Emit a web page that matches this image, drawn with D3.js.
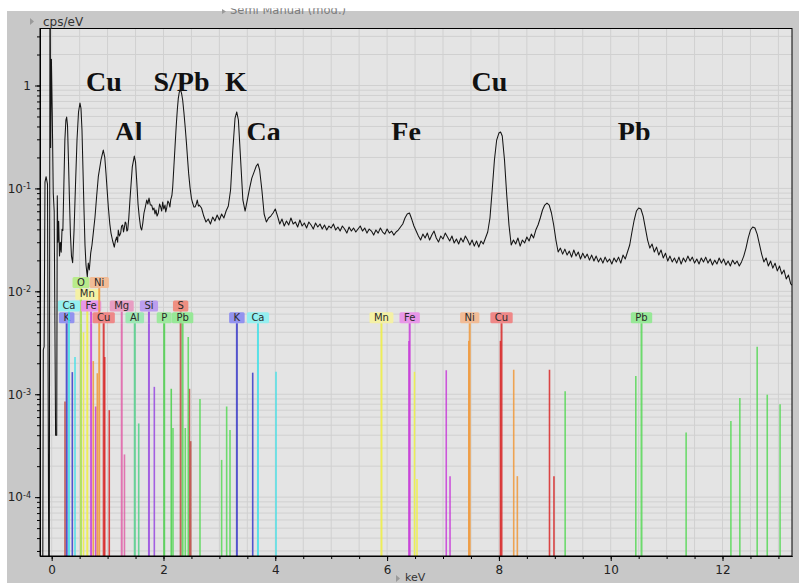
<!DOCTYPE html>
<html>
<head>
<meta charset="utf-8">
<script src="https://cdn.jsdelivr.net/npm/d3@7"></script>
<style>
  html, body { margin: 0; padding: 0; background: #fff; }
  svg { display: block; }
</style>
</head>
<body>
<svg id="chart" width="799" height="583"></svg>
<script>
// ---------------- data ----------------
// axis ranges (keV, cps/eV)
const energyRange = [-0.209, 13.243];
const countRange = [2.68e-5, 3.58];

// measured spectrum: [energy keV, intensity cps/eV]
const spectrum = [
  [-0.165, 1e-6], [-0.150, 0.0027], [-0.135, 0.0029], [-0.120, 0.115], [-0.100, 0.13], [-0.075, 0.11],
  [-0.045, 1e-6], [-0.030, 30], [-0.018, 0.25], [-0.005, 1.8], [0.010, 0.55], [0.028, 0.09], [0.045, 0.06],
  [0.070, 0.0004], [0.090, 0.0004], [0.100, 0.085], [0.112, 0.03], [0.125, 0.048], [0.140, 0.022],
  [0.155, 0.03], [0.170, 0.024], [0.185, 0.04], [0.200, 0.039], [0.218, 0.108], [0.236, 0.295],
  [0.254, 0.46], [0.268, 0.494], [0.283, 0.41], [0.300, 0.19], [0.318, 0.077], [0.336, 0.035],
  [0.354, 0.022], [0.375, 0.019], [0.400, 0.039], [0.426, 0.108], [0.453, 0.295], [0.480, 0.553],
  [0.506, 0.676], [0.524, 0.60], [0.542, 0.369], [0.560, 0.151], [0.578, 0.062], [0.596, 0.028],
  [0.614, 0.018], [0.637, 0.0139], [0.655, 0.0188], [0.673, 0.0161], [0.698, 0.0235], [0.721, 0.0282],
  [0.744, 0.0368], [0.775, 0.0527], [0.805, 0.085], [0.834, 0.13], [0.882, 0.189], [0.923, 0.236],
  [0.950, 0.20], [0.971, 0.141], [1.013, 0.066], [1.040, 0.045], [1.061, 0.0368], [1.090, 0.031],
  [1.120, 0.0269], [1.140, 0.031], [1.163, 0.0337], [1.180, 0.030], [1.191, 0.0394], [1.212, 0.0345],
  [1.234, 0.0368], [1.250, 0.0431], [1.270, 0.0441], [1.285, 0.0377], [1.299, 0.0412], [1.315, 0.0471],
  [1.329, 0.0461], [1.345, 0.0385], [1.360, 0.0394], [1.380, 0.052], [1.400, 0.0772], [1.442, 0.162],
  [1.478, 0.206], [1.500, 0.18], [1.520, 0.121], [1.545, 0.07], [1.567, 0.0527], [1.590, 0.042],
  [1.610, 0.0394], [1.630, 0.046], [1.651, 0.0577], [1.675, 0.0659], [1.700, 0.0772], [1.720, 0.0705],
  [1.741, 0.0807], [1.765, 0.0689], [1.789, 0.0689], [1.810, 0.0617], [1.830, 0.0645], [1.848, 0.0564],
  [1.866, 0.0617], [1.885, 0.0539], [1.907, 0.0577], [1.930, 0.0705], [1.950, 0.0659], [1.968, 0.0603],
  [1.986, 0.0738], [2.005, 0.0631], [2.027, 0.0689], [2.040, 0.0590], [2.057, 0.0645], [2.078, 0.0755],
  [2.098, 0.0721], [2.115, 0.0659], [2.129, 0.0772], [2.150, 0.085], [2.165, 0.103], [2.185, 0.16],
  [2.206, 0.253], [2.227, 0.40], [2.247, 0.578], [2.265, 0.75], [2.283, 0.865], [2.308, 0.904],
  [2.325, 0.83], [2.343, 0.723], [2.365, 0.55], [2.388, 0.395], [2.410, 0.28], [2.429, 0.20],
  [2.450, 0.14], [2.474, 0.103], [2.500, 0.08], [2.522, 0.0721], [2.545, 0.0659], [2.564, 0.0659],
  [2.585, 0.0700], [2.605, 0.0772], [2.625, 0.0674], [2.640, 0.0689],
  [2.68, 0.0645], [2.72, 0.0539], [2.76, 0.0472], [2.80, 0.0504], [2.84, 0.0451], [2.88, 0.0527],
  [2.92, 0.0482], [2.96, 0.0551], [3.00, 0.0493], [3.04, 0.0564], [3.08, 0.0516], [3.12, 0.0603],
  [3.16, 0.0674], [3.20, 0.0965], [3.24, 0.236], [3.28, 0.483], [3.31, 0.553], [3.34, 0.462],
  [3.38, 0.189], [3.42, 0.0772], [3.46, 0.0603], [3.50, 0.0772], [3.54, 0.100], [3.58, 0.126],
  [3.62, 0.144], [3.66, 0.165], [3.69, 0.173], [3.72, 0.151], [3.76, 0.0965], [3.80, 0.0564],
  [3.84, 0.0472], [3.88, 0.0516], [3.92, 0.0539], [3.96, 0.0577], [4.00, 0.0631], [4.04, 0.0539],
  [4.08, 0.0451], [4.12, 0.0504], [4.16, 0.0431], [4.20, 0.0482], [4.24, 0.0441], [4.28, 0.0516],
  [4.32, 0.0451], [4.36, 0.0472], [4.40, 0.0422], [4.44, 0.0493], [4.48, 0.0431], [4.52, 0.0461],
  [4.56, 0.0412], [4.60, 0.0472], [4.64, 0.0441], [4.68, 0.0403], [4.72, 0.0461], [4.76, 0.0422],
  [4.80, 0.0451], [4.84, 0.0403], [4.88, 0.0441], [4.92, 0.0394], [4.96, 0.0431], [5.00, 0.0412],
  [5.04, 0.0451], [5.08, 0.0394], [5.12, 0.0422], [5.16, 0.0385], [5.20, 0.0431], [5.24, 0.0403],
  [5.28, 0.0368], [5.32, 0.0422], [5.36, 0.0385], [5.40, 0.0412], [5.44, 0.0377], [5.48, 0.0403],
  [5.52, 0.0431], [5.56, 0.0385], [5.60, 0.0412], [5.64, 0.0368], [5.68, 0.0403], [5.72, 0.0385],
  [5.76, 0.0352], [5.80, 0.0394], [5.84, 0.0368], [5.88, 0.0412], [5.92, 0.0377], [5.96, 0.0360],
  [6.00, 0.0403], [6.04, 0.0368], [6.08, 0.0385], [6.12, 0.0352], [6.16, 0.0377], [6.20, 0.0394],
  [6.24, 0.0422], [6.28, 0.0451], [6.32, 0.0516], [6.36, 0.0564], [6.40, 0.0577], [6.44, 0.0504],
  [6.48, 0.0431], [6.52, 0.0385], [6.56, 0.0345], [6.60, 0.0315], [6.64, 0.0360], [6.68, 0.0330],
  [6.72, 0.0368], [6.76, 0.0315], [6.80, 0.0352], [6.84, 0.0385], [6.88, 0.0330], [6.92, 0.0301],
  [6.96, 0.0345], [7.00, 0.0322], [7.04, 0.0368], [7.08, 0.0337], [7.12, 0.0308], [7.16, 0.0345],
  [7.20, 0.0295], [7.24, 0.0322], [7.28, 0.0288], [7.32, 0.0330], [7.36, 0.0301], [7.40, 0.0345],
  [7.44, 0.0315], [7.48, 0.0282], [7.52, 0.0315], [7.56, 0.0275], [7.60, 0.0308], [7.64, 0.0269],
  [7.68, 0.0308], [7.72, 0.0288], [7.76, 0.0330], [7.80, 0.0377], [7.84, 0.0516], [7.88, 0.0965],
  [7.92, 0.189], [7.96, 0.295], [8.00, 0.345], [8.03, 0.353], [8.06, 0.323], [8.10, 0.189],
  [8.14, 0.0863], [8.18, 0.0441], [8.22, 0.0282], [8.26, 0.0315], [8.30, 0.0288], [8.34, 0.0330],
  [8.38, 0.0275], [8.42, 0.0315], [8.46, 0.0295], [8.50, 0.0337], [8.54, 0.0308], [8.58, 0.0360],
  [8.62, 0.0330], [8.66, 0.0394], [8.70, 0.0441], [8.74, 0.0516], [8.78, 0.0617], [8.82, 0.0689],
  [8.86, 0.0721], [8.90, 0.0689], [8.94, 0.0577], [8.98, 0.0441], [9.02, 0.0315], [9.06, 0.0241],
  [9.10, 0.0263], [9.14, 0.0230], [9.18, 0.0257], [9.22, 0.0225], [9.26, 0.0246], [9.30, 0.0215],
  [9.34, 0.0252], [9.38, 0.0220], [9.42, 0.0241], [9.46, 0.0206], [9.50, 0.0235], [9.54, 0.0211],
  [9.58, 0.0230], [9.62, 0.0201], [9.66, 0.0225], [9.70, 0.0197], [9.74, 0.0220], [9.78, 0.0193],
  [9.82, 0.0211], [9.86, 0.0188], [9.90, 0.0215], [9.94, 0.0193], [9.98, 0.0206], [10.02, 0.0184],
  [10.06, 0.0211], [10.10, 0.0193], [10.14, 0.0215], [10.18, 0.0188], [10.22, 0.0225], [10.26, 0.0206],
  [10.30, 0.0241], [10.34, 0.0282], [10.38, 0.0377], [10.42, 0.0493], [10.46, 0.0603], [10.50, 0.0645],
  [10.54, 0.0631], [10.58, 0.0539], [10.62, 0.0412], [10.66, 0.0315], [10.70, 0.0263], [10.74, 0.0288],
  [10.78, 0.0241], [10.82, 0.0269], [10.86, 0.0225], [10.90, 0.0252], [10.94, 0.0211], [10.98, 0.0235],
  [11.02, 0.0197], [11.06, 0.0220], [11.10, 0.0193], [11.14, 0.0211], [11.18, 0.0188], [11.22, 0.0215],
  [11.26, 0.0184], [11.30, 0.0211], [11.34, 0.0193], [11.38, 0.0220], [11.42, 0.0197], [11.46, 0.0215],
  [11.50, 0.0188], [11.54, 0.0206], [11.58, 0.0184], [11.62, 0.0211], [11.66, 0.0193], [11.70, 0.0215],
  [11.74, 0.0188], [11.78, 0.0206], [11.82, 0.0180], [11.86, 0.0201], [11.90, 0.0184], [11.94, 0.0211],
  [11.98, 0.0188], [12.02, 0.0206], [12.06, 0.0180], [12.10, 0.0197], [12.14, 0.0176], [12.18, 0.0201],
  [12.22, 0.0184], [12.26, 0.0197], [12.30, 0.0176], [12.34, 0.0193], [12.38, 0.0220], [12.42, 0.0263],
  [12.46, 0.0330], [12.50, 0.0394], [12.54, 0.0422], [12.58, 0.0412], [12.62, 0.0360], [12.66, 0.0288],
  [12.70, 0.0230], [12.74, 0.0193], [12.78, 0.0211], [12.82, 0.0176], [12.86, 0.0197], [12.90, 0.0168],
  [12.94, 0.0188], [12.98, 0.0158], [13.02, 0.0176], [13.06, 0.0147], [13.10, 0.0161], [13.14, 0.0132],
  [13.18, 0.0144], [13.22, 0.0118], [13.26, 0.0113]
];

// element line markers: [energy keV, marker height cps/eV]
const linesK  = [[0.268, 0.0049], [0.369, 0.00164], [3.313, 0.0049], [3.596, 0.00162]];
const linesCa = [[0.309, 0.0049], [0.417, 0.0023], [3.690, 0.0049], [4.013, 0.00165]];
const linesO  = [[0.524, 0.0049]];
const linesMn = [[0.569, 0.0040], [0.637, 0.0049], [5.899, 0.0049], [6.490, 0.00165], [6.535, 0.00015]];
const linesFe = [[0.705, 0.0049], [0.787, 0.00076], [6.391, 0.0033], [6.404, 0.0049], [7.058, 0.00171], [7.126, 0.00016]];
const linesNi = [[0.744, 0.0021], [0.816, 0.0016], [0.851, 0.0049], [7.461, 0.0033], [7.478, 0.0049], [8.265, 0.00173], [8.330, 0.00016]];
const linesCu = [[0.930, 0.0049], [0.949, 0.0023], [1.030, 0.0007], [8.028, 0.0033], [8.047, 0.0049], [8.905, 0.00173], [8.985, 0.00016]];
const linesMg = [[1.253, 0.0049], [1.302, 0.00026]];
const linesAl = [[1.486, 0.0049], [1.557, 0.00052]];
const linesSi = [[1.740, 0.0049], [1.836, 0.00118]];
const linesP  = [[2.013, 0.0049], [2.139, 0.00113]];
const linesS  = [[0.238, 0.00085], [2.307, 0.0049], [2.464, 0.00113], [2.487, 0.00035]];
const linesPb = [[2.170, 0.00047], [2.342, 0.0049], [2.390, 0.00047], [2.443, 0.0036], [2.653, 0.0009],
                 [3.040, 0.00023], [3.130, 0.00076], [3.190, 0.00045], [9.185, 0.00107], [10.449, 0.0015],
                 [10.551, 0.0049], [11.349, 0.000425], [12.150, 0.00055], [12.310, 0.00092], [12.620, 0.0029],
                 [12.800, 0.00099], [13.030, 0.0008]];

const elementNames = ["K", "Ca", "O", "Mn", "Fe", "Ni", "Cu", "Mg", "Al", "Si", "P", "S", "Pb"];
const elementLines = [linesK, linesCa, linesO, linesMn, linesFe, linesNi, linesCu, linesMg, linesAl, linesSi, linesP, linesS, linesPb];

// identified lines carrying a tag
const tagNames = ["K", "Ca", "O", "Mn", "Fe", "Ni", "Cu", "Mg", "Al", "Si", "P", "S", "Pb", "K", "Ca", "Mn", "Fe", "Ni", "Cu", "Pb"];
const tagKeV   = [0.268, 0.309, 0.524, 0.637, 0.705, 0.851, 0.930, 1.253, 1.486, 1.740, 2.013, 2.307, 2.342, 3.313, 3.690, 5.899, 6.404, 7.478, 8.047, 10.551];
const tagLevel = 0.0049;

// peak annotations
const peakNames = ["Cu", "S/Pb", "K", "Cu", "Al", "Ca", "Fe", "Pb"];
const peakKeV   = [0.934, 2.322, 3.295, 7.83, 1.374, 3.79, 6.34, 10.42];

// axis ticks
const xMinorTicks = d3.range(0, 13.01, 0.5);
const xMajorTicks = [0, 2, 4, 6, 8, 10, 12];
const yMajorTicks = [1, 1e-1, 1e-2, 1e-3, 1e-4];
const yMinorTicks = [];
for (let e = -5; e <= 0; e++) for (let m = 1; m <= 9; m++) {
  const v = m * Math.pow(10, e);
  if (v >= countRange[0] && v <= countRange[1]) yMinorTicks.push(v);
}

// ---------------- layout & styles ----------------
const plot = { left: 40, right: 792, top: 28.5, bottom: 556 };
const tagRow = [0, 1, 3, 2, 1, 3, 0, 1, 0, 1, 0, 1, 0, 0, 0, 0, 0, 0, 0, 0];
const tagRowStep = 11.7;
const tagHeight = 11;
const peakRow = [0, 0, 0, 0, 1, 1, 1, 1];
const peakBaseline = [91, 141];

const lineColor = {
  K: "#3a3ac8", Ca: "#3fe0e8", O: "#a8e050", Mn: "#f0f040", Fe: "#c83cd8", Ni: "#f09838",
  Cu: "#d82828", Mg: "#e060a8", Al: "#50d088", Si: "#9848e0", P: "#48d048", S: "#c04a44", Pb: "#58d858"
};
const tagFill = {
  K: "#8c8cf0", Ca: "#8ef0f0", O: "#b4ec84", Mn: "#f6f2a0", Fe: "#e890e8", Ni: "#f2b890",
  Cu: "#f08080", Mg: "#e898c0", Al: "#98e8b0", Si: "#b898f0", P: "#98e898", S: "#f08878", Pb: "#90e890"
};

// ---------------- drawing ----------------
const svg = d3.select("#chart");
const x = d3.scaleLinear().domain(energyRange).range([plot.left, plot.right]);
const y = d3.scaleLog().domain(countRange).range([plot.bottom, plot.top]);

svg.append("rect").attr("width", 799).attr("height", 583).attr("fill", "#ffffff");
svg.append("rect").attr("x", 7).attr("y", 11).attr("width", 792).attr("height", 572).attr("fill", "#c8c8c8");

// window caption (partly hidden under the top border)
svg.append("path").attr("d", "M222,9 L226,11.5 L222,14 Z").attr("fill", "#9a9a9a");
svg.append("text").attr("x", 230).attr("y", 14).attr("font-family", "DejaVu Sans")
  .attr("font-size", 11.5).attr("fill", "#7c7c7c").text("Semi Manual (mod.)");
svg.append("rect").attr("width", 799).attr("height", 8.3).attr("fill", "#ffffff");

// plot area
svg.append("rect").attr("x", plot.left).attr("y", plot.top)
  .attr("width", plot.right - plot.left).attr("height", plot.bottom - plot.top).attr("fill", "#e4e4e4");

svg.append("defs").append("clipPath").attr("id", "plotClip").append("rect")
  .attr("x", plot.left).attr("y", plot.top)
  .attr("width", plot.right - plot.left).attr("height", plot.bottom - plot.top);

// grid
const grid = svg.append("g").attr("stroke", "#d0d0d0").attr("stroke-width", 1);
grid.selectAll("line.v").data(xMinorTicks).join("line").attr("class", "v")
  .attr("x1", d => x(d)).attr("x2", d => x(d)).attr("y1", plot.top).attr("y2", plot.bottom);
grid.selectAll("line.h").data(yMinorTicks).join("line").attr("class", "h")
  .attr("x1", plot.left).attr("x2", plot.right).attr("y1", d => y(d)).attr("y2", d => y(d));

// element line markers
const markers = svg.append("g").attr("clip-path", "url(#plotClip)");
elementNames.forEach((name, i) => {
  markers.append("g").selectAll("line").data(elementLines[i]).join("line")
    .attr("x1", d => x(d[0])).attr("x2", d => x(d[0]))
    .attr("y1", plot.bottom).attr("y2", d => y(d[1]))
    .attr("stroke", lineColor[name])
    .attr("stroke-opacity", 0.85)
    .attr("stroke-width", d => d[1] >= tagLevel ? 2 : 1.6);
});

// tags for identified lines
const tags = svg.append("g").attr("font-family", "DejaVu Sans").attr("font-size", 10);
tagNames.forEach((name, i) => {
  const cx = x(tagKeV[i]);
  const bottom = y(tagLevel) - tagRow[i] * tagRowStep;
  if (tagRow[i] > 0) {
    tags.append("line").attr("x1", cx).attr("x2", cx).attr("y1", y(tagLevel)).attr("y2", bottom)
      .attr("stroke", lineColor[name]).attr("stroke-opacity", 0.85).attr("stroke-width", 2);
  }
  const g = tags.append("g");
  const t = g.append("text").attr("x", cx).attr("y", bottom - 2.4).attr("text-anchor", "middle")
    .attr("fill", "#2a2a2a").text(name);
  const w = t.node().getComputedTextLength() + 9;
  g.insert("rect", "text").attr("x", cx - w / 2).attr("y", bottom - tagHeight).attr("width", w).attr("height", tagHeight)
    .attr("rx", 1.5).attr("fill", tagFill[name]).attr("fill-opacity", 0.92);
});

// spectrum
svg.append("path").datum(spectrum)
  .attr("clip-path", "url(#plotClip)")
  .attr("fill", "none").attr("stroke", "#141414").attr("stroke-width", 1.05)
  .attr("stroke-linejoin", "round")
  .attr("d", d3.line().x(d => x(d[0])).y(d => y(d[1])));

// peak annotations
svg.append("defs").append("clipPath").attr("id", "annClip").append("rect")
  .attr("x", plot.left).attr("y", plot.top).attr("width", plot.right - plot.left).attr("height", 140 - plot.top);
const ann = svg.append("g").attr("font-family", "Liberation Serif").attr("font-weight", "bold")
  .attr("font-size", 28).attr("fill", "#111").attr("clip-path", "url(#annClip)");
ann.selectAll("text").data(peakNames).join("text")
  .attr("x", (d, i) => x(peakKeV[i])).attr("y", (d, i) => peakBaseline[peakRow[i]])
  .attr("text-anchor", "middle").text(d => d);

// frame
svg.append("rect").attr("x", plot.left).attr("y", plot.top)
  .attr("width", plot.right - plot.left).attr("height", plot.bottom - plot.top)
  .attr("fill", "none").attr("stroke", "#000").attr("stroke-width", 1);

// axes
function styleAxis(g) {
  g.select(".domain").attr("stroke", "#000");
  g.selectAll(".tick line").attr("stroke", "#000");
  g.selectAll(".tick text").attr("fill", "#222").attr("font-family", "DejaVu Sans").attr("font-size", 12);
}
svg.append("g").attr("transform", `translate(0,${plot.bottom})`)
  .call(d3.axisBottom(x).tickValues(xMinorTicks).tickSize(3).tickSizeOuter(0).tickFormat(() => ""))
  .call(styleAxis);
svg.append("g").attr("transform", `translate(0,${plot.bottom})`)
  .call(d3.axisBottom(x).tickValues(xMajorTicks).tickSize(5).tickSizeOuter(0).tickPadding(4).tickFormat(d3.format("d")))
  .call(styleAxis);

svg.append("g").attr("transform", `translate(${plot.left},0)`)
  .call(d3.axisLeft(y).tickValues(yMinorTicks).tickSize(3).tickSizeOuter(0).tickFormat(() => ""))
  .call(styleAxis);
const gyMajor = svg.append("g").attr("transform", `translate(${plot.left},0)`)
  .call(d3.axisLeft(y).tickValues(yMajorTicks).tickSize(5).tickSizeOuter(0).tickPadding(4).tickFormat(() => ""))
  .call(styleAxis);
gyMajor.selectAll(".tick text").each(function (d) {
  const t = d3.select(this);
  const e = Math.round(Math.log10(d));
  if (e === 0) { t.text("1"); return; }
  t.append("tspan").text("10");
  t.append("tspan").attr("dy", "-0.45em").attr("font-size", 8).text(String(e));
});

// axis titles
svg.append("path").attr("d", "M30,18 L34,21.5 L30,25 Z").attr("fill", "#9a9a9a");
svg.append("text").attr("x", 43).attr("y", 25.5).attr("font-family", "DejaVu Sans").attr("font-size", 12)
  .attr("fill", "#333").text("cps/eV");
svg.append("path").attr("d", "M396,575 L400,578.5 L396,582 Z").attr("fill", "#9a9a9a");
svg.append("text").attr("x", 405).attr("y", 581).attr("font-family", "DejaVu Sans").attr("font-size", 11)
  .attr("fill", "#333").text("keV");
</script>
</body>
</html>
